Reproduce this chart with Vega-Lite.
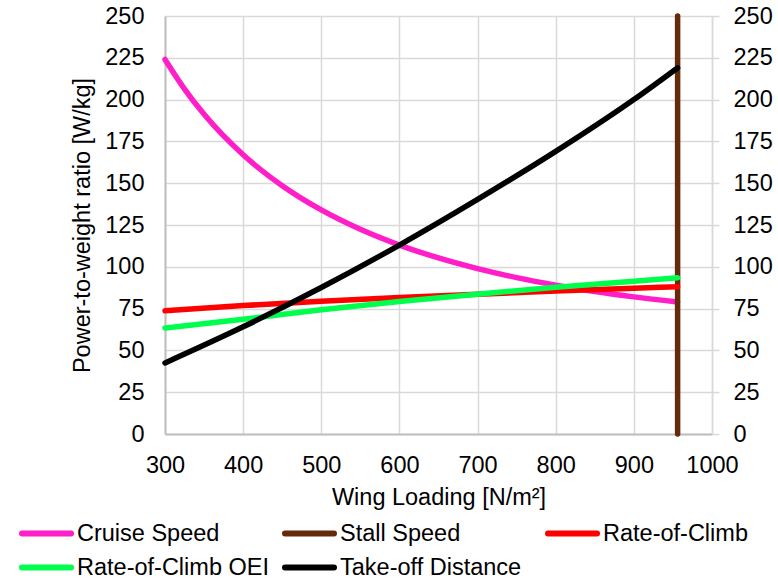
{
  "$schema": "https://vega.github.io/schema/vega-lite/v6.json",
  "autosize": {"type": "none"},
  "width": 547,
  "height": 418,
  "padding": {"left": 165, "top": 16, "right": 66, "bottom": 145},
  "background": "white",
  "config": {"font": "Liberation Sans", "view": {"stroke": null}},
  "data": {"values": [
    {"series": "Cruise Speed", "x": 300, "y": 224.0},
    {"series": "Cruise Speed", "x": 325, "y": 206.3},
    {"series": "Cruise Speed", "x": 350, "y": 191.2},
    {"series": "Cruise Speed", "x": 400, "y": 167.0},
    {"series": "Cruise Speed", "x": 450, "y": 148.5},
    {"series": "Cruise Speed", "x": 500, "y": 134.0},
    {"series": "Cruise Speed", "x": 550, "y": 122.4},
    {"series": "Cruise Speed", "x": 600, "y": 113.0},
    {"series": "Cruise Speed", "x": 650, "y": 105.3},
    {"series": "Cruise Speed", "x": 700, "y": 98.9},
    {"series": "Cruise Speed", "x": 750, "y": 93.5},
    {"series": "Cruise Speed", "x": 800, "y": 89.0},
    {"series": "Cruise Speed", "x": 850, "y": 85.2},
    {"series": "Cruise Speed", "x": 900, "y": 82.0},
    {"series": "Cruise Speed", "x": 956, "y": 79.0},
    {"series": "Stall Speed", "x": 956, "y": 0},
    {"series": "Stall Speed", "x": 956, "y": 250},
    {"series": "Rate-of-Climb", "x": 300, "y": 73.7},
    {"series": "Rate-of-Climb", "x": 400, "y": 76.8},
    {"series": "Rate-of-Climb", "x": 500, "y": 79.4},
    {"series": "Rate-of-Climb", "x": 600, "y": 81.6},
    {"series": "Rate-of-Climb", "x": 700, "y": 83.6},
    {"series": "Rate-of-Climb", "x": 800, "y": 85.5},
    {"series": "Rate-of-Climb", "x": 900, "y": 87.2},
    {"series": "Rate-of-Climb", "x": 956, "y": 88.1},
    {"series": "Rate-of-Climb OEI", "x": 300, "y": 63.4},
    {"series": "Rate-of-Climb OEI", "x": 400, "y": 68.6},
    {"series": "Rate-of-Climb OEI", "x": 500, "y": 74.3},
    {"series": "Rate-of-Climb OEI", "x": 600, "y": 79.2},
    {"series": "Rate-of-Climb OEI", "x": 700, "y": 83.6},
    {"series": "Rate-of-Climb OEI", "x": 800, "y": 87.8},
    {"series": "Rate-of-Climb OEI", "x": 900, "y": 91.4},
    {"series": "Rate-of-Climb OEI", "x": 956, "y": 93.4},
    {"series": "Take-off Distance", "x": 300, "y": 42.5},
    {"series": "Take-off Distance", "x": 400, "y": 64.1},
    {"series": "Take-off Distance", "x": 500, "y": 87.6},
    {"series": "Take-off Distance", "x": 600, "y": 113.0},
    {"series": "Take-off Distance", "x": 700, "y": 140.3},
    {"series": "Take-off Distance", "x": 800, "y": 169.0},
    {"series": "Take-off Distance", "x": 900, "y": 200.0},
    {"series": "Take-off Distance", "x": 956, "y": 219.0}
  ]},
  "encoding": {
    "x": {
      "field": "x", "type": "quantitative",
      "scale": {"domain": [300, 1000], "nice": false, "zero": false},
      "axis": {
        "title": "Wing Loading [N/m²]",
        "values": [300, 400, 500, 600, 700, 800, 900, 1000],
        "format": "d",
        "grid": true, "gridColor": "#D9D9D9", "gridWidth": 1.5,
        "ticks": false, "domain": true, "domainColor": "#BFBFBF", "domainWidth": 2,
        "labelFlush": false, "labelPadding": 19, "titlePadding": 9,
        "labelFontSize": 23.5, "titleFontSize": 23.5, "titleFontWeight": "normal",
        "labelColor": "black", "titleColor": "black", "labelFont": "Liberation Sans", "titleFont": "Liberation Sans"
      }
    }
  },
  "layer": [
    {
      "mark": {"type": "line", "strokeWidth": 5.5, "strokeCap": "round", "strokeJoin": "round", "interpolate": "monotone"},
      "encoding": {
        "y": {
          "field": "y", "type": "quantitative",
          "scale": {"domain": [0, 250], "nice": false},
          "axis": {
            "orient": "left",
            "title": "Power-to-weight ratio [W/kg]",
            "values": [0, 25, 50, 75, 100, 125, 150, 175, 200, 225, 250],
            "grid": true, "gridColor": "#D9D9D9", "gridWidth": 1.5,
            "ticks": false, "domain": true, "domainColor": "#BFBFBF", "domainWidth": 2,
            "labelPadding": 21, "titlePadding": 10,
            "labelFontSize": 23.5, "titleFontSize": 23.5, "titleFontWeight": "normal",
            "labelColor": "black", "titleColor": "black", "labelFont": "Liberation Sans", "titleFont": "Liberation Sans"
          }
        },
        "color": {
          "field": "series", "type": "nominal",
          "scale": {
            "domain": ["Cruise Speed", "Stall Speed", "Rate-of-Climb", "Rate-of-Climb OEI", "Take-off Distance"],
            "range": ["#FF1EC8", "#66290A", "#FF0000", "#00FF4C", "#000000"]
          },
          "legend": {
            "orient": "none", "legendX": -146, "legendY": 506,
            "direction": "horizontal", "columns": 3, "gridAlign": "all",
            "columnPadding": 13, "rowPadding": 10, "clipHeight": 23,
            "symbolType": "stroke", "symbolSize": 2401, "symbolStrokeWidth": 6,
            "labelFontSize": 23.5, "labelFont": "Liberation Sans", "labelColor": "black",
            "labelOffset": 3, "labelLimit": 400, "title": null,
            "encode": {"symbols": {"update": {"strokeCap": {"value": "round"}}}}
          }
        }
      }
    },
    {
      "mark": {"type": "line", "opacity": 0},
      "encoding": {
        "y": {
          "field": "y", "type": "quantitative",
          "axis": {
            "orient": "right", "title": null,
            "values": [0, 25, 50, 75, 100, 125, 150, 175, 200, 225, 250],
            "grid": false, "ticks": true, "tickSize": 7, "tickColor": "#D9D9D9", "tickWidth": 1.5,
            "domain": true, "domainColor": "#D9D9D9", "domainWidth": 1.5,
            "labelPadding": 14, "labelFontSize": 23.5, "labelColor": "black", "labelFont": "Liberation Sans"
          }
        }
      }
    }
  ],
  "resolve": {"axis": {"y": "independent"}}
}
